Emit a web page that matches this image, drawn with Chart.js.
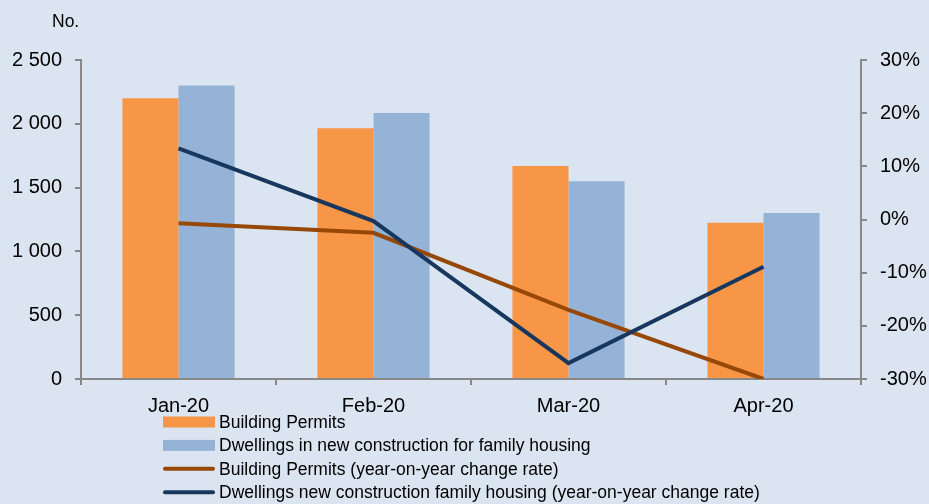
<!DOCTYPE html>
<html>
<head>
<meta charset="utf-8">
<script src="https://cdn.jsdelivr.net/npm/chart.js@4.4.1/dist/chart.umd.min.js"></script>
<style>
  html, body { margin: 0; padding: 0; background: #dbe5f1; }
  #wrap { width: 929px; height: 504px; }
</style>
</head>
<body>
<div id="wrap"><canvas id="chart" width="929" height="504"></canvas></div>
<script>
var categories = ['Jan-20', 'Feb-20', 'Mar-20', 'Apr-20'];
var permits = [2200, 1965, 1670, 1225];
var dwellings = [2300, 2085, 1550, 1300];
var permitsRate = [-0.7, -2.5, -17, -30];
var dwellingsRate = [13.4, -0.3, -27, -8.9];
var leftTicks = [0, 500, 1000, 1500, 2000, 2500];
var rightTicks = [-30, -20, -10, 0, 10, 20, 30];

var FONT = "'Liberation Sans', Arial, sans-serif";
var AXIS = '#888888';

// "No." label and the vertical legend below the plot
var extras = {
    id: 'extras',
    afterDraw: function(chart) {
        var ctx = chart.ctx;
        ctx.save();
        ctx.fillStyle = '#000';
        ctx.font = '17.5px ' + FONT;
        ctx.textBaseline = 'middle';
        ctx.textAlign = 'left';
        ctx.fillText('No.', 52, 22);

        var y = 422;
        chart.data.datasets.forEach(function(ds) {
            if (ds.type === 'line') {
                ctx.strokeStyle = ds.borderColor;
                ctx.lineWidth = 4;
                ctx.lineCap = 'round';
                ctx.beginPath();
                ctx.moveTo(165, y);
                ctx.lineTo(213, y);
                ctx.stroke();
            } else {
                ctx.fillStyle = ds.backgroundColor;
                ctx.fillRect(163, y - 5.5, 52, 11);
            }
            ctx.fillStyle = '#000';
            ctx.fillText(ds.label, 219, y + 1);
            y += 23.4;
        });
        ctx.restore();
    }
};

var ctx = document.getElementById('chart').getContext('2d');
var chart = new Chart(ctx, {
    data: {
        labels: categories,
        datasets: [
            {
                type: 'bar',
                label: 'Building Permits',
                data: permits,
                backgroundColor: '#f79646',
                yAxisID: 'y',
                order: 3
            },
            {
                type: 'bar',
                label: 'Dwellings in new construction for family housing',
                data: dwellings,
                backgroundColor: '#95b3d7',
                yAxisID: 'y',
                order: 3
            },
            {
                type: 'line',
                label: 'Building Permits (year-on-year change rate)',
                data: permitsRate,
                borderColor: '#974806',
                borderWidth: 4,
                pointRadius: 0,
                tension: 0,
                fill: false,
                yAxisID: 'y1',
                order: 2
            },
            {
                type: 'line',
                label: 'Dwellings new construction family housing (year-on-year change rate)',
                data: dwellingsRate,
                borderColor: '#17375e',
                borderWidth: 4,
                pointRadius: 0,
                tension: 0,
                fill: false,
                yAxisID: 'y1',
                order: 1
            }
        ]
    },
    options: {
        responsive: false,
        devicePixelRatio: 1,
        animation: false,
        layout: { padding: { top: 60, bottom: 75, left: 0, right: 0 } },
        datasets: {
            bar: { categoryPercentage: 0.575, barPercentage: 1.0 }
        },
        plugins: {
            legend: { display: false },
            tooltip: { enabled: false }
        },
        scales: {
            x: {
                offset: true,
                border: { color: AXIS, width: 2 },
                grid: { drawOnChartArea: false, offset: true, tickLength: 6, color: AXIS, lineWidth: 2 },
                ticks: { color: '#000', font: { family: FONT, size: 20 }, padding: 9, maxRotation: 0 },
                afterFit: function(s) { s.height = 50; }
            },
            y: {
                position: 'left',
                min: 0,
                max: 2500,
                afterBuildTicks: function(s) { s.ticks = leftTicks.map(function(v) { return { value: v }; }); },
                border: { color: AXIS, width: 2 },
                grid: { drawOnChartArea: false, tickLength: 6, color: AXIS, lineWidth: 2 },
                ticks: {
                    color: '#000',
                    font: { family: FONT, size: 20 },
                    padding: 13,
                    callback: function(v) { return String(v).replace(/\B(?=(\d{3})+(?!\d))/g, ' '); }
                },
                afterFit: function(s) { s.width = 81; }
            },
            y1: {
                position: 'right',
                min: -30,
                max: 30,
                afterBuildTicks: function(s) { s.ticks = rightTicks.map(function(v) { return { value: v }; }); },
                border: { color: AXIS, width: 2 },
                grid: { drawOnChartArea: false, tickLength: 6, color: AXIS, lineWidth: 2 },
                ticks: {
                    color: '#000',
                    font: { family: FONT, size: 20 },
                    padding: 13,
                    callback: function(v) { return v + '%'; }
                },
                afterFit: function(s) { s.width = 68; }
            }
        }
    },
    plugins: [extras]
});
</script>
</body>
</html>
